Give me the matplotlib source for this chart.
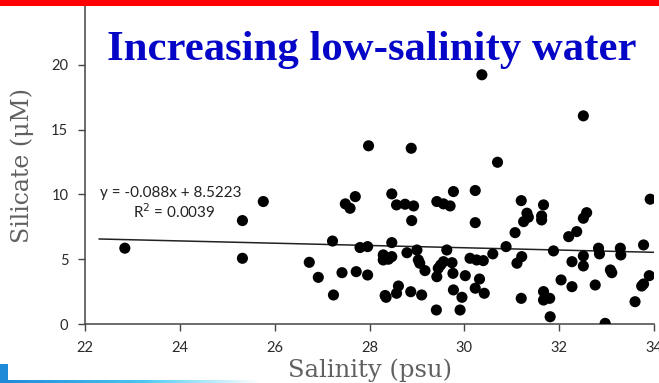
import numpy as np
import matplotlib
matplotlib.use("Agg")
import matplotlib.pyplot as plt
from matplotlib.patches import Rectangle

# Surface salinity (psu) and silicate (uM) observations
salinity = [
    22.84, 25.32, 25.76, 25.32, 26.73, 26.92, 27.22, 27.24, 27.49, 27.59,
    27.70, 27.42, 27.72, 27.96, 27.80, 27.96, 27.98, 28.47, 28.57, 28.75,
    28.93, 28.89, 28.88, 28.47, 28.29, 28.40, 28.47, 28.29, 28.79, 29.00,
    29.03, 29.06, 29.17, 28.35, 28.57, 28.61, 28.87, 29.10, 29.42, 29.56,
    29.70, 29.77, 29.63, 29.45, 29.56, 29.74, 29.42, 29.76, 29.41, 29.77,
    29.95, 29.91, 30.23, 30.23, 30.02, 30.12, 30.26, 30.40, 30.60, 30.32,
    30.23, 30.42, 30.88, 31.20, 31.07, 31.32, 31.35, 31.25, 31.67, 31.63,
    31.63, 31.21, 31.11, 31.20, 31.67, 31.67, 31.80, 31.81, 31.88, 32.04,
    32.27, 32.20, 32.37, 32.51, 32.58, 32.27, 32.51, 32.51, 32.76, 32.83,
    32.85, 32.97, 33.08, 33.11, 33.29, 33.30, 33.60, 33.74, 33.78, 33.78,
    33.90, 33.92, 30.37, 32.51, 30.70, 28.33, 29.50,
]
silicate = [
    5.85, 7.98, 9.45, 5.07, 4.76, 3.60, 6.40, 2.24, 9.27, 8.93,
    9.83, 3.96, 4.04, 3.78, 5.90, 5.97, 13.75, 10.04, 9.19, 9.24,
    9.11, 7.98, 13.56, 6.28, 5.33, 5.00, 5.20, 4.94, 5.50, 5.71,
    4.94, 4.69, 4.12, 2.06, 2.37, 2.93, 2.49, 2.24, 9.45, 9.27,
    9.11, 10.22, 5.71, 4.30, 4.81, 4.73, 3.65, 3.91, 1.08, 2.63,
    2.06, 1.08, 10.30, 7.82, 3.73, 5.07, 4.94, 4.89, 5.41, 3.47,
    2.76, 2.37, 5.97, 9.52, 7.05, 8.55, 8.24, 7.90, 9.19, 8.34,
    8.03, 5.20, 4.69, 1.98, 2.50, 1.85, 1.98, 0.56, 5.64, 3.40,
    2.88, 6.74, 7.13, 8.16, 8.59, 4.81, 5.25, 4.48, 3.01, 5.85,
    5.41, 0.05, 4.17, 3.96, 5.85, 5.33, 1.72, 2.93, 3.09, 6.10,
    3.73, 9.63, 19.23, 16.06, 12.48, 2.20, 4.55,
]

# Linear trend reported on the chart
slope = -0.088
intercept = 8.5223
r_squared = 0.0039
fit_range = [22.3, 34.0]

x_ticks = [22, 24, 26, 28, 30, 32, 34]
y_ticks = [0, 5, 10, 15, 20, 25]

fig = plt.figure(figsize=(6.59, 3.83), dpi=100)
ax = fig.add_axes([85 / 659, 1 - 324 / 383, (654 - 85) / 659, 324 / 383])

ax.scatter(salinity, silicate, s=64, color="black", edgecolors="none", zorder=3)

fx = np.array(fit_range)
ax.plot(fx, slope * fx + intercept, color="#222222", lw=1.1, zorder=2)

ax.set_xlim(22, 34)
ax.set_ylim(0, 25)
ax.set_xticks(x_ticks)
ax.set_yticks(y_ticks)

for side in ("top", "right"):
    ax.spines[side].set_visible(False)
for side in ("left", "bottom"):
    ax.spines[side].set_color("#444444")
    ax.spines[side].set_linewidth(1.1)

ax.tick_params(axis="both", direction="out", length=5, width=1.0, color="#444444",
               labelsize=10.5, labelcolor="#2a2a2a", pad=7)
for lab in ax.get_xticklabels() + ax.get_yticklabels():
    lab.set_fontfamily("Lato")

ax.text(22.32, 10.1, f"y = {slope}x + {intercept}", fontsize=11, family="Lato",
        color="#222222", va="center", ha="left")
ax.text(23.88, 8.65, f"R$^2$ = {r_squared}", fontsize=11, family="Lato",
        color="#222222", va="center", ha="center")

ax.set_xlabel("Salinity (psu)", fontsize=17.5, family="DejaVu Serif", color="#606060")
ax.xaxis.set_label_coords(0.501, -0.142)
ax.xaxis.label.set_va("center")
ax.set_ylabel("Silicate (μM)", fontsize=17, family="DejaVu Serif", color="#606060")
ax.yaxis.set_label_coords(-0.111, 0.488)
ax.yaxis.label.set_va("center")

fig.text(107 / 659, 1 - 60 / 383, "Increasing low-salinity water", fontsize=30.8,
         family="Liberation Serif", weight="bold", color="#0505C8",
         ha="left", va="baseline")

# Slide decorations: red band on top, blue tab and fading rule at the bottom
fig.add_artist(Rectangle((0, 1 - 6 / 383), 1, 6 / 383, transform=fig.transFigure,
                         facecolor="#FF0000", edgecolor="none", zorder=10))
fig.add_artist(Rectangle((0, 0), 8 / 659, 19 / 383, transform=fig.transFigure,
                         facecolor="#1E8AD8", edgecolor="none", zorder=10))

grad_ax = fig.add_axes([0, 0, 260 / 659, 3 / 383], zorder=9)
t = np.linspace(0, 1, 256)
c0 = np.array([0.12, 0.54, 0.85])
c1 = np.array([0.30, 0.80, 0.95])
rgba = np.zeros((1, 256, 4))
for i, v in enumerate(t):
    col = c0 + (c1 - c0) * min(v / 0.6, 1.0)
    alpha = 1.0 if v < 0.55 else max(0.0, 1 - (v - 0.55) / 0.45)
    rgba[0, i, :3] = col
    rgba[0, i, 3] = alpha
grad_ax.imshow(rgba, aspect="auto", extent=[0, 1, 0, 1])
grad_ax.axis("off")

fig.savefig("out.png", dpi=100)
